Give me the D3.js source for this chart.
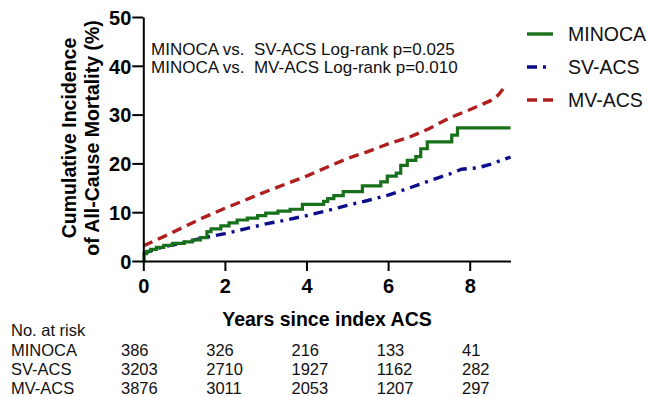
<!DOCTYPE html>
<html>
<head>
<meta charset="utf-8">
<script src="https://cdn.jsdelivr.net/npm/d3@7"></script>
<style>
  html, body { margin: 0; padding: 0; background: #fff; }
  svg { display: block; font-family: Arial, "Liberation Sans", sans-serif; }
</style>
</head>
<body>
<svg id="chart" width="648" height="397"></svg>
<script>
// ---- data ----
const minocaTime  = [0, 0.02, 0.08, 0.18, 0.32, 0.5, 0.72, 1.0, 1.2, 1.4, 1.56, 1.66, 1.9, 2.1, 2.3, 2.55, 2.8, 3.0, 3.3, 3.6, 3.9, 4.42, 4.52, 4.67, 4.9, 5.37, 5.82, 5.98, 6.2, 6.31, 6.47, 6.68, 6.8, 6.96, 7.56, 7.7, 9.0];
const minocaValue = [0, 1.5, 2.0, 2.4, 2.8, 3.2, 3.6, 3.9, 4.3, 4.8, 6.0, 6.6, 7.2, 7.8, 8.4, 8.8, 9.3, 9.8, 10.2, 10.6, 11.6, 12.2, 12.8, 13.4, 14.2, 15.4, 16.2, 17.4, 18.0, 19.6, 20.6, 21.4, 23.0, 24.4, 25.8, 27.3, 27.3];

const svacsTime  = [0, 0.25, 0.5, 1.0, 1.5, 2.0, 2.5, 3.0, 3.5, 4.0, 4.5, 5.0, 5.5, 6.0, 6.5, 7.0, 7.5, 7.8, 8.2, 8.5, 9.0];
const svacsValue = [1.5, 2.3, 2.9, 3.8, 4.8, 5.6, 6.6, 7.6, 8.4, 9.3, 10.3, 11.4, 12.4, 13.5, 14.9, 16.4, 17.8, 18.8, 19.1, 19.8, 21.3];

const mvacsTime  = [0, 0.5, 1.0, 1.5, 2.0, 2.5, 3.0, 3.5, 4.0, 4.5, 5.0, 5.5, 6.0, 6.5, 7.0, 7.5, 8.0, 8.5, 8.7, 8.85];
const mvacsValue = [3.1, 5.0, 7.0, 9.0, 10.8, 12.5, 14.2, 15.8, 17.4, 19.2, 21.0, 22.4, 24.0, 25.3, 27.1, 29.3, 31.0, 32.8, 34.0, 35.6];

const seriesNames = ["MINOCA", "SV-ACS", "MV-ACS"];
const xTicks = [0, 2, 4, 6, 8];
const yTicks = [0, 10, 20, 30, 40, 50];
const riskTimes = [0, 2, 4, 6, 8];
const riskMINOCA = [386, 326, 216, 133, 41];
const riskSVACS  = [3203, 2710, 1927, 1162, 282];
const riskMVACS  = [3876, 3011, 2053, 1207, 297];
const annotations = ["MINOCA vs.\u00a0\u00a0SV-ACS Log-rank p=0.025", "MINOCA vs.\u00a0\u00a0MV-ACS Log-rank p=0.010"];

// ---- layout ----
const svg = d3.select("#chart");
const x = d3.scaleLinear().domain([0, 9]).range([143.3, 510.5]);
const y = d3.scaleLinear().domain([0, 50]).range([261, 17]);
const riskX = d3.scaleLinear().domain([0, 8]).range([121, 462]);

const colors = { "MINOCA": "#18701a", "SV-ACS": "#0c0c8a", "MV-ACS": "#b01e1e" };
const dashes = { "MINOCA": null, "SV-ACS": "10,6,3,6", "MV-ACS": "10,6" };

const zip = (t, v) => t.map((d, i) => [d, v[i]]);
const series = [
  { name: "SV-ACS", data: zip(svacsTime, svacsValue), curve: d3.curveLinear },
  { name: "MV-ACS", data: zip(mvacsTime, mvacsValue), curve: d3.curveLinear },
  { name: "MINOCA", data: zip(minocaTime, minocaValue), curve: d3.curveStepAfter }
];

series.forEach(s => {
  const line = d3.line().x(d => x(d[0])).y(d => y(d[1])).curve(s.curve);
  svg.append("path")
    .attr("d", line(s.data))
    .attr("fill", "none")
    .attr("stroke", colors[s.name])
    .attr("stroke-width", s.name === "MINOCA" ? 3.2 : 3.4)
    .attr("stroke-dasharray", dashes[s.name]);
});

// axes
const yAxis = d3.axisLeft(y).tickValues(yTicks).tickSize(11).tickPadding(1).tickSizeOuter(0);
const gy = svg.append("g").attr("transform", `translate(${x(0)},0)`).call(yAxis);
const xAxis = d3.axisBottom(x).tickValues(xTicks).tickSize(10).tickPadding(8).tickSizeOuter(0);
const gx = svg.append("g").attr("transform", `translate(0,${y(0)})`).call(xAxis);
[gx, gy].forEach(g => {
  g.select(".domain").attr("stroke", "#000").attr("stroke-width", 2);
  g.selectAll(".tick line").attr("stroke", "#000").attr("stroke-width", 2);
  g.selectAll(".tick text").attr("fill", "#000").attr("font-size", 20).attr("font-weight", "bold")
    .attr("font-family", "Arial, 'Liberation Sans', sans-serif");
});
gy.selectAll(".tick text").attr("dy", "0.36em");

// axis titles
svg.append("text").attr("x", 327).attr("y", 326).attr("text-anchor", "middle")
  .attr("font-size", 19.5).attr("font-weight", "bold").text("Years since index ACS");
const yt = svg.append("g").attr("transform", "translate(0,138) rotate(-90)");
yt.append("text").attr("x", 0).attr("y", 75.5).attr("text-anchor", "middle")
  .attr("font-size", 19.5).attr("font-weight", "bold").text("Cumulative Incidence");
yt.append("text").attr("x", 0).attr("y", 99).attr("text-anchor", "middle")
  .attr("font-size", 19.5).attr("font-weight", "bold").text("of All-Cause Mortality (%)");

// annotations
annotations.forEach((a, i) => {
  svg.append("text").attr("x", 151).attr("y", 55 + i * 18)
    .attr("font-size", 17).attr("fill", "#111").text(a);
});

// legend
const legendNames = ["MINOCA", "SV-ACS", "MV-ACS"];
legendNames.forEach((n, i) => {
  const ly = 34 + i * 33;
  const da = n === "SV-ACS" ? "10,6,3,20" : dashes[n];
  svg.append("line").attr("x1", 527).attr("x2", 553).attr("y1", ly).attr("y2", ly)
    .attr("stroke", colors[n]).attr("stroke-width", 3.4).attr("stroke-dasharray", da);
  svg.append("text").attr("x", 568).attr("y", ly + 7).attr("font-size", 19.5).attr("fill", "#111").text(n);
});

// number at risk table
svg.append("text").attr("x", 11).attr("y", 336).attr("font-size", 16.5).attr("fill", "#111").text("No. at risk");
const riskRows = [riskMINOCA, riskSVACS, riskMVACS];
riskRows.forEach((row, r) => {
  const ry = 355.5 + r * 19.3;
  svg.append("text").attr("x", 11).attr("y", ry).attr("font-size", 16.5).attr("fill", "#111").text(seriesNames[r]);
  row.forEach((v, i) => {
    svg.append("text").attr("x", riskX(riskTimes[i])).attr("y", ry).attr("font-size", 16.5)
      .attr("fill", "#111").text(v);
  });
});
</script>
</body>
</html>
